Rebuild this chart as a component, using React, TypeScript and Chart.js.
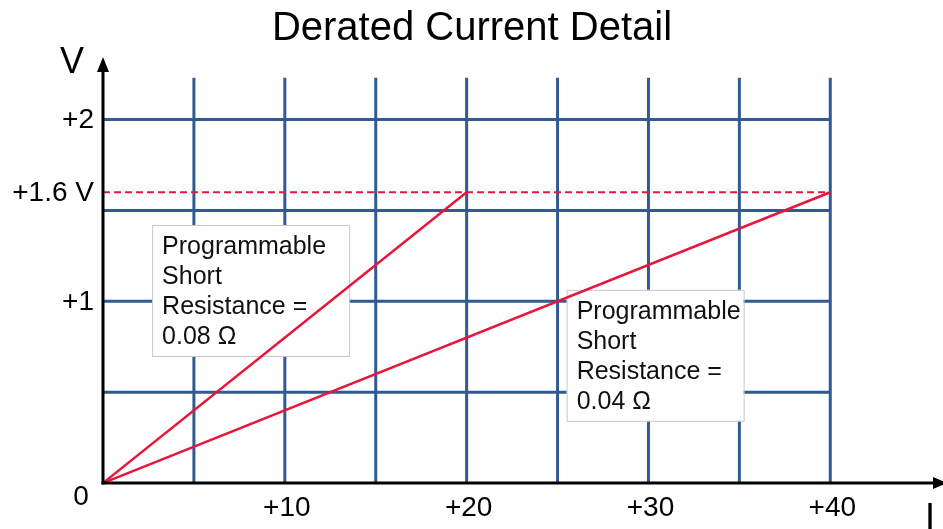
import React, { useEffect, useRef } from "react";
import { Chart, registerables } from "chart.js";

Chart.register(...registerables);

// ---- data ----
const line008Current = [0, 20];
const line008Voltage = [0, 1.6];
const line004Current = [0, 40];
const line004Voltage = [0, 1.6];
const limitCurrent = [0, 40];
const limitVoltage = [1.6, 1.6];

const xGridValues = [5, 10, 15, 20, 25, 30, 35, 40];
const yGridValues = [0.5, 1, 1.5, 2];
const xTickValues = [10, 20, 30, 40];
const xTickLabels = ["+10", "+20", "+30", "+40"];
const yTickValues = [1, 1.6, 2];
const yTickLabels = ["+1", "+1.6 V", "+2"];

const noteLines008 = ["Programmable", "Short", "Resistance =", "0.08 \u03A9"];
const noteLines004 = ["Programmable", "Short", "Resistance =", "0.04 \u03A9"];

const FONT = "'Liberation Sans', Arial, sans-serif";
const RED = "#e8163c";
const BLUE = "#2f5a92";

const pts = (xs: number[], ys: number[]) => xs.map((x, i) => ({ x, y: ys[i] }));

export default function App() {
  const ref = useRef<HTMLCanvasElement | null>(null);

  useEffect(() => {
    document.body.style.margin = "0";
    const canvas = ref.current!;
    const gridTopV = 2.23;
    const gridRightI = 40;

    const backgroundPlugin = {
      id: "bg",
      beforeDatasetsDraw(chart: any) {
        const ctx = chart.ctx;
        const xs = chart.scales.x;
        const ys = chart.scales.y;
        ctx.save();
        ctx.strokeStyle = BLUE;
        ctx.lineWidth = 3;
        for (const v of xGridValues) {
          const px = xs.getPixelForValue(v);
          ctx.beginPath();
          ctx.moveTo(px, ys.getPixelForValue(gridTopV));
          ctx.lineTo(px, ys.getPixelForValue(0));
          ctx.stroke();
        }
        for (const v of yGridValues) {
          const py = ys.getPixelForValue(v);
          ctx.beginPath();
          ctx.moveTo(xs.getPixelForValue(0), py);
          ctx.lineTo(xs.getPixelForValue(gridRightI), py);
          ctx.stroke();
        }
        // annotation boxes
        const drawNote = (ix: number, vy: number, w: number, lines: string[]) => {
          const left = xs.getPixelForValue(ix);
          const top = ys.getPixelForValue(vy);
          const h = 131;
          ctx.fillStyle = "#ffffff";
          ctx.fillRect(left, top, w, h);
          ctx.strokeStyle = "#c8c8c8";
          ctx.lineWidth = 1;
          ctx.strokeRect(left + 0.5, top + 0.5, w, h);
          ctx.fillStyle = "#111111";
          ctx.font = `25px ${FONT}`;
          ctx.textAlign = "left";
          ctx.textBaseline = "middle";
          lines.forEach((t, i) => ctx.fillText(t, left + 10, top + 22 + i * 30));
        };
        drawNote(2.7, 1.42, 197, noteLines008);
        drawNote(25.5, 1.063, 177, noteLines004);
        ctx.restore();
      },
      afterDatasetsDraw(chart: any) {
        const ctx = chart.ctx;
        const xs = chart.scales.x;
        const ys = chart.scales.y;
        const ox = xs.getPixelForValue(0);
        const oy = ys.getPixelForValue(0);
        ctx.save();
        ctx.strokeStyle = "#000";
        ctx.fillStyle = "#000";
        ctx.lineWidth = 3;
        // y axis
        ctx.beginPath();
        ctx.moveTo(ox, oy + 1.5);
        ctx.lineTo(ox, 70);
        ctx.stroke();
        ctx.beginPath();
        ctx.moveTo(ox, 57);
        ctx.lineTo(ox - 6, 72);
        ctx.lineTo(ox + 6, 72);
        ctx.closePath();
        ctx.fill();
        // x axis
        ctx.beginPath();
        ctx.moveTo(ox - 1.5, oy);
        ctx.lineTo(chart.width, oy);
        ctx.stroke();
        ctx.beginPath();
        ctx.moveTo(chart.width + 4, oy);
        ctx.lineTo(chart.width - 10, oy - 6);
        ctx.lineTo(chart.width - 10, oy + 6);
        ctx.closePath();
        ctx.fill();

        // tick labels
        ctx.font = `28px ${FONT}`;
        ctx.textBaseline = "middle";
        ctx.textAlign = "center";
        xTickValues.forEach((v, i) => {
          ctx.fillText(xTickLabels[i], xs.getPixelForValue(v) + 2, oy + 25);
        });
        ctx.textAlign = "right";
        yTickValues.forEach((v, i) => {
          ctx.fillText(yTickLabels[i], ox - 9, ys.getPixelForValue(v) + 1);
        });
        ctx.textAlign = "center";
        ctx.fillText("0", ox - 22, oy + 14);

        // axis names
        ctx.font = `36px ${FONT}`;
        ctx.textBaseline = "alphabetic";
        ctx.fillText("V", ox - 31, 73);
        ctx.fillText("I", 930, 529);

        // title
        ctx.font = `40px ${FONT}`;
        ctx.fillText("Derated Current Detail", 472, 40);
        ctx.restore();
      },
    };

    const chart = new Chart(canvas, {
      type: "scatter",
      data: {
        datasets: [
          {
            data: pts(limitCurrent, limitVoltage),
            showLine: true,
            borderColor: RED,
            borderWidth: 2,
            borderDash: [7, 4],
            pointRadius: 0,
          },
          {
            data: pts(line008Current, line008Voltage),
            showLine: true,
            borderColor: RED,
            borderWidth: 2.5,
            pointRadius: 0,
          },
          {
            data: pts(line004Current, line004Voltage),
            showLine: true,
            borderColor: RED,
            borderWidth: 2.5,
            pointRadius: 0,
          },
        ],
      },
      options: {
        animation: false,
        responsive: false,
        layout: { padding: { left: 103, right: 0, top: 56, bottom: 46 } },
        scales: {
          x: { type: "linear", min: 0, max: 46.2, display: false },
          y: { type: "linear", min: 0, max: 2.35, display: false },
        },
        plugins: { legend: { display: false }, tooltip: { enabled: false } },
      },
      plugins: [backgroundPlugin],
    } as any);
    return () => chart.destroy();
  }, []);

  return (
    <div style={{ position: "absolute", left: 0, top: 0, width: 943, height: 529, background: "#fff" }}>
      <canvas ref={ref} width={943} height={529} style={{ display: "block", width: 943, height: 529 }} />
    </div>
  );
}
